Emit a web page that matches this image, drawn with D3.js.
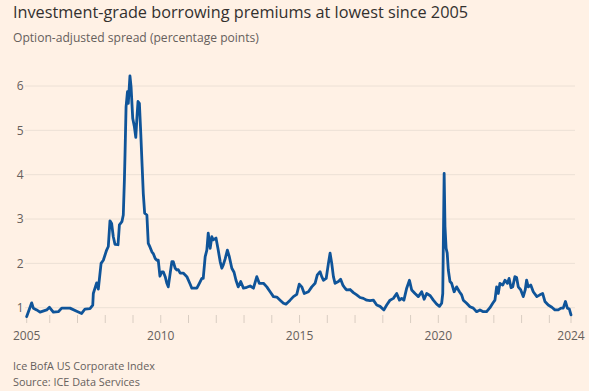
<!DOCTYPE html>
<html>
<head>
<meta charset="utf-8">
<script src="https://cdn.jsdelivr.net/npm/d3@7"></script>
<style>
  html, body { margin: 0; padding: 0; background: #fff1e5; }
  svg { display: block; }
  text { font-family: "Open Sans", "Noto Sans", sans-serif; }
</style>
</head>
<body>
<svg id="chart" width="589" height="391"></svg>
<script>
// ---- Data ----
const title = "Investment-grade borrowing premiums at lowest since 2005";
const subtitle = "Option-adjusted spread (percentage points)";
const footnotes = ["Ice BofA US Corporate Index", "Source: ICE Data Services"];

// Decimal years of each reading
const dates = [
  2005.17, 2005.35, 2005.41, 2005.53, 2005.65, 2005.89, 2005.99, 2006.13, 2006.31, 2006.43,
  2006.73, 2006.97, 2007.15, 2007.27, 2007.45, 2007.55, 2007.57, 2007.69, 2007.75, 2007.85,
  2007.93, 2008.05, 2008.11, 2008.17, 2008.23, 2008.29, 2008.35, 2008.46, 2008.51, 2008.60,
  2008.65, 2008.69, 2008.71, 2008.75, 2008.80, 2008.83, 2008.89, 2008.93, 2008.99, 2009.05,
  2009.10, 2009.14, 2009.18, 2009.23, 2009.28, 2009.33, 2009.37, 2009.42, 2009.50, 2009.55,
  2009.61, 2009.68, 2009.73, 2009.80, 2009.86, 2009.91, 2009.97, 2010.04, 2010.09, 2010.16,
  2010.22, 2010.27, 2010.34, 2010.40, 2010.45, 2010.52, 2010.58, 2010.63, 2010.70, 2010.81,
  2010.94, 2011.06, 2011.12, 2011.24, 2011.30, 2011.39, 2011.48, 2011.53, 2011.60, 2011.66,
  2011.71, 2011.78, 2011.84, 2011.89, 2011.99, 2012.07, 2012.14, 2012.20, 2012.25, 2012.32,
  2012.40, 2012.47, 2012.56, 2012.64, 2012.71, 2012.79, 2012.88, 2012.98, 2013.10, 2013.22,
  2013.34, 2013.46, 2013.55, 2013.70, 2013.82, 2013.94, 2014.06, 2014.18, 2014.30, 2014.42,
  2014.51, 2014.66, 2014.78, 2014.90, 2014.99, 2015.08, 2015.17, 2015.32, 2015.44, 2015.56,
  2015.64, 2015.74, 2015.80, 2015.86, 2015.96, 2016.04, 2016.10, 2016.16, 2016.22, 2016.28,
  2016.40, 2016.48, 2016.56, 2016.64, 2016.70, 2016.82, 2016.94, 2017.06, 2017.18, 2017.30,
  2017.42, 2017.54, 2017.66, 2017.78, 2017.90, 2018.04, 2018.14, 2018.26, 2018.38, 2018.50,
  2018.60, 2018.68, 2018.76, 2018.86, 2018.96, 2019.04, 2019.16, 2019.28, 2019.40, 2019.49,
  2019.58, 2019.71, 2019.82, 2019.94, 2020.04, 2020.12, 2020.16, 2020.21, 2020.24, 2020.28,
  2020.32, 2020.36, 2020.42, 2020.48, 2020.57, 2020.66, 2020.76, 2020.84, 2020.90, 2021.02,
  2021.14, 2021.26, 2021.38, 2021.50, 2021.62, 2021.74, 2021.86, 2021.96, 2022.04, 2022.10,
  2022.16, 2022.22, 2022.32, 2022.40, 2022.49, 2022.55, 2022.62, 2022.68, 2022.76, 2022.82,
  2022.88, 2022.97, 2023.06, 2023.13, 2023.18, 2023.24, 2023.33, 2023.42, 2023.55, 2023.66,
  2023.76, 2023.84, 2023.96, 2024.09, 2024.20, 2024.32, 2024.42, 2024.50, 2024.58, 2024.65,
  2024.72, 2024.78
];

// Option-adjusted spread, percentage points
const spread = [
  0.80, 1.11, 0.99, 0.95, 0.90, 0.95, 1.01, 0.90, 0.91, 0.99,
  0.99, 0.92, 0.87, 0.97, 0.98, 1.06, 1.32, 1.56, 1.42, 2.00,
  2.07, 2.30, 2.38, 2.96, 2.90, 2.60, 2.43, 2.42, 2.87, 2.94,
  3.09, 3.88, 4.40, 5.53, 5.87, 5.61, 6.23, 5.98, 5.27, 5.08,
  4.84, 5.27, 5.65, 5.61, 4.93, 4.18, 3.58, 3.13, 3.09, 2.45,
  2.37, 2.26, 2.22, 2.11, 2.07, 2.07, 1.71, 1.81, 1.81, 1.70,
  1.55, 1.47, 1.78, 2.04, 2.04, 1.89, 1.85, 1.86, 1.78, 1.78,
  1.70, 1.53, 1.44, 1.44, 1.44, 1.55, 1.66, 1.66, 2.15, 2.30,
  2.68, 2.34, 2.60, 2.53, 2.57, 2.30, 2.04, 1.89, 1.96, 2.10,
  2.30, 2.15, 1.89, 1.80, 1.62, 1.47, 1.59, 1.44, 1.46, 1.49,
  1.44, 1.70, 1.55, 1.55, 1.47, 1.36, 1.25, 1.24, 1.17, 1.10,
  1.08, 1.17, 1.25, 1.30, 1.53, 1.47, 1.32, 1.36, 1.47, 1.55,
  1.74, 1.81, 1.70, 1.62, 1.66, 2.00, 2.23, 2.00, 1.70, 1.55,
  1.59, 1.64, 1.51, 1.44, 1.40, 1.41, 1.34, 1.29, 1.23, 1.21,
  1.17, 1.16, 1.17, 1.06, 1.03, 0.95, 1.06, 1.17, 1.21, 1.32,
  1.17, 1.21, 1.17, 1.44, 1.62, 1.40, 1.32, 1.25, 1.36, 1.19,
  1.32, 1.27, 1.17, 1.08, 1.03, 1.10, 1.32, 4.03, 2.83, 2.34,
  2.23, 1.85, 1.59, 1.55, 1.36, 1.47, 1.36, 1.29, 1.17, 1.10,
  1.02, 0.99, 0.91, 0.95, 0.91, 0.91, 1.00, 1.10, 1.17, 1.47,
  1.32, 1.55, 1.51, 1.62, 1.55, 1.66, 1.45, 1.47, 1.70, 1.68,
  1.47, 1.40, 1.25, 1.40, 1.62, 1.47, 1.51, 1.36, 1.25, 1.29,
  1.32, 1.14, 1.06, 1.01, 0.95, 0.95, 0.99, 0.99, 1.14, 0.99,
  0.97, 0.84
];

const yTicks = [1, 2, 3, 4, 5, 6];
const xStart = 2005.17, xEnd = 2024.78;
const yearTicks = [2006, 2007, 2008, 2009, 2010, 2011, 2012, 2013, 2014, 2015,
                   2016, 2017, 2018, 2019, 2020, 2021, 2022, 2023, 2024];
const xLabels = [[xStart, "2005"], [2010, "2010"], [2015, "2015"], [2020, "2020"], [xEnd, "2024"]];

// ---- Drawing ----
const svg = d3.select("#chart");
const W = 589, H = 391;
svg.append("rect").attr("width", W).attr("height", H).attr("fill", "#fff1e5");

const x = d3.scaleLinear().domain([xStart, xEnd]).range([26.7, 571]);
const y = d3.scaleLinear().domain([1, 6]).range([307.7, 86]);

function fitText(sel, targetWidth) {
  const node = sel.node();
  const fs = parseFloat(sel.attr("font-size"));
  const w = node.getComputedTextLength();
  if (w > 0) sel.attr("font-size", (fs * targetWidth / w).toFixed(2));
}

// Title & subtitle
const t = svg.append("text").attr("x", 13).attr("y", 17.5)
  .attr("font-size", 16).attr("fill", "#33302e").text(title);
fitText(t, 455);
const st = svg.append("text").attr("x", 13).attr("y", 42)
  .attr("font-size", 12).attr("fill", "#66605c").text(subtitle);
fitText(st, 246);

// Gridlines
svg.append("g").selectAll("line").data(yTicks).join("line")
  .attr("x1", 25).attr("x2", 575)
  .attr("y1", d => y(d)).attr("y2", d => y(d))
  .attr("stroke", "#ece0d5").attr("stroke-width", 1);

// Y labels
svg.append("g").selectAll("text").data(yTicks).join("text")
  .attr("x", 23.5).attr("y", d => y(d)).attr("dy", "0.36em")
  .attr("text-anchor", "end").attr("font-size", 12).attr("fill", "#66605c")
  .text(d => d);

// X ticks
const allTicks = [xStart].concat(yearTicks, [xEnd]);
svg.append("g").selectAll("line").data(allTicks).join("line")
  .attr("x1", d => x(d)).attr("x2", d => x(d))
  .attr("y1", 315).attr("y2", 323)
  .attr("stroke", "#d9cdc2").attr("stroke-width", 1);

svg.append("g").selectAll("text").data(xLabels).join("text")
  .attr("x", d => x(d[0])).attr("y", 340)
  .attr("text-anchor", "middle").attr("font-size", 12).attr("fill", "#66605c")
  .text(d => d[1]);

// Line
const pts = dates.map((d, i) => [d, spread[i]]);
const line = d3.line().x(d => x(d[0])).y(d => y(d[1])).curve(d3.curveLinear);
svg.append("path").datum(pts)
  .attr("d", line).attr("fill", "none")
  .attr("stroke", "#0f5499").attr("stroke-width", 2.8)
  .attr("stroke-linejoin", "round").attr("stroke-linecap", "round");

// Footnotes
const f1 = svg.append("text").attr("x", 13).attr("y", 370)
  .attr("font-size", 11).attr("fill", "#66605c").text(footnotes[0]);
fitText(f1, 142);
const f2 = svg.append("text").attr("x", 13).attr("y", 386)
  .attr("font-size", 11).attr("fill", "#66605c").text(footnotes[1]);
fitText(f2, 127);
</script>
</body>
</html>
